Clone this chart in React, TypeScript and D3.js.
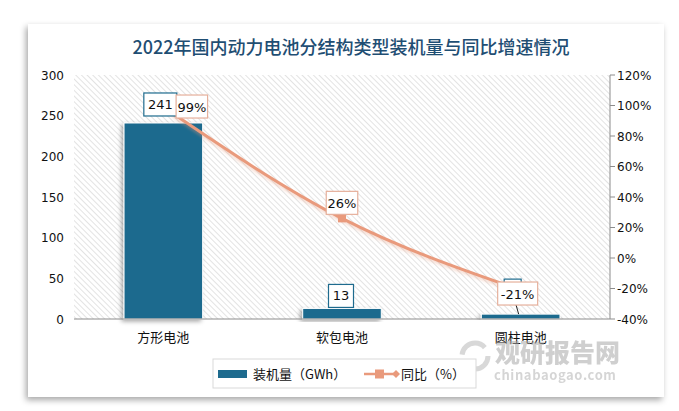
import React from "react";
import * as d3 from "d3";

const categories = ["方形电池", "软包电池", "圆柱电池"];
const installed = [241, 13, 6];
const yoy = [99, 26, -21];
const leftTicks = [0, 50, 100, 150, 200, 250, 300];
const rightTicks = [-40, -20, 0, 20, 40, 60, 80, 100, 120];

const W = 679;
const H = 411;
const plot = { left: 74, right: 610, top: 75, bottom: 319 };
const BAR = "#1e6b8e";
const LINE = "#e99a7c";
const FONT = "'Noto Sans CJK SC', 'Noto Sans', sans-serif";
const NUMFONT = "Verdana, 'DejaVu Sans', sans-serif";

export default function App() {
  const x = d3.scaleBand<string>().domain(categories).range([plot.left, plot.right]).paddingInner(0.56).paddingOuter(0.28);
  const yL = d3.scaleLinear().domain([0, 300]).range([plot.bottom, plot.top]);
  const yR = d3.scaleLinear().domain([-40, 120]).range([plot.bottom, plot.top]);
  const cx = (c: string) => (x(c) as number) + x.bandwidth() / 2;

  const linePath = d3
    .line<number>()
    .x((_, i) => cx(categories[i]))
    .y((d) => yR(d))
    .curve(d3.curveMonotoneX)(yoy) as string;

  const barLabelOffsets = [
    { dx: -3, dy: -29 },
    { dx: -1, dy: -23 },
    { dx: -8, dy: -34 },
  ];
  const lineLabelOffsets = [
    { dx: 28.5, dy: 0 },
    { dx: 0, dy: -15 },
    { dx: -3, dy: 4 },
  ];

  return (
    <svg width={W} height={H} style={{ position: "absolute", left: 0, top: 0 }} xmlns="http://www.w3.org/2000/svg">
      <defs>
        <pattern id="hatch" width="4" height="4" patternUnits="userSpaceOnUse" patternTransform="rotate(-45)">
          <rect width="4" height="4" fill="#ffffff" />
          <line x1="0" y1="0" x2="0" y2="4" stroke="#d4d4d4" strokeWidth="1.3" />
        </pattern>
        <filter id="cardShadow" x="-10%" y="-10%" width="120%" height="125%">
          <feDropShadow dx="-2" dy="3" stdDeviation="3" floodColor="#000" floodOpacity="0.35" />
        </filter>
        <filter id="barShadow" x="-20%" y="-20%" width="140%" height="140%">
          <feDropShadow dx="-2" dy="2" stdDeviation="2" floodColor="#000" floodOpacity="0.35" />
        </filter>
        <filter id="lineShadow" x="-10%" y="-10%" width="120%" height="130%">
          <feDropShadow dx="0" dy="2" stdDeviation="1.5" floodColor="#e99a7c" floodOpacity="0.4" />
        </filter>
      </defs>
      <rect x={0} y={0} width={W} height={H} fill="#fff" />
      <rect x={28} y={24} width={636} height={373} fill="#fff" filter="url(#cardShadow)" />

      <text x={351} y={54} textAnchor="middle" fontFamily={FONT} fontSize={18} fontWeight={500} fill="#1f4e73">
        2022年国内动力电池分结构类型装机量与同比增速情况
      </text>

      <rect x={plot.left} y={plot.top} width={plot.right - plot.left} height={plot.bottom - plot.top} fill="url(#hatch)" />

      {leftTicks.map((t) => (
        <text key={t} x={64} y={yL(t) + 4.5} textAnchor="end" fontFamily={NUMFONT} fontSize={12} fill="#111">
          {t}
        </text>
      ))}
      <line x1={plot.right} x2={plot.right} y1={plot.top} y2={plot.bottom} stroke="#8c8c8c" />
      {rightTicks.map((t) => (
        <g key={t}>
          <line x1={plot.right} x2={plot.right + 5} y1={yR(t)} y2={yR(t)} stroke="#8c8c8c" />
          <text x={plot.right + 7} y={yR(t) + 4.5} fontFamily={NUMFONT} fontSize={12} fill="#111">
            {t}%
          </text>
        </g>
      ))}

      {installed.map((v, i) => (
        <rect
          key={categories[i]}
          x={x(categories[i]) as number}
          y={yL(v)}
          width={x.bandwidth()}
          height={yL(0) - yL(v)}
          fill={BAR}
          stroke="#fff"
          strokeWidth={1}
          filter="url(#barShadow)"
        />
      ))}
      <line x1={plot.left} x2={plot.right} y1={plot.bottom} y2={plot.bottom} stroke="#8c8c8c" />

      {categories.map((c) => (
        <text key={c} x={cx(c)} y={342} textAnchor="middle" fontFamily={FONT} fontSize={13} fill="#111">
          {c}
        </text>
      ))}

      <path d={linePath} fill="none" stroke={LINE} strokeWidth={3} filter="url(#lineShadow)" />
      {yoy.map((v, i) => (
        <rect key={i} x={cx(categories[i]) - 4} y={yR(v) - 4} width={8} height={8} fill={LINE} />
      ))}

      {installed.map((v, i) => {
        const c = cx(categories[i]) + barLabelOffsets[i].dx;
        const yy = yL(v) + barLabelOffsets[i].dy;
        const label = String(v);
        const w = label.length * 8 + 9;
        const hidden = i === 2;
        return (
          <g key={"bl" + i}>
            {hidden && <line x1={c + 2} y1={yy + 20} x2={cx(categories[i]) - 2} y2={yL(v)} stroke="#222" strokeWidth={1} />}
            <rect x={c - w / 2} y={yy - 1} width={w} height={23} fill="#fff" stroke={BAR} strokeWidth={1.2} />
            {!hidden && (
              <text x={c} y={yy + 15} textAnchor="middle" fontFamily={NUMFONT} fontSize={13} fill="#111">
                {label}
              </text>
            )}
          </g>
        );
      })}
      {yoy.map((v, i) => {
        const c = cx(categories[i]) + lineLabelOffsets[i].dx;
        const yy = yR(v) + lineLabelOffsets[i].dy;
        const label = v + "%";
        const w = label.length * 8.5 + 6;
        return (
          <g key={"ll" + i}>
            <rect x={c - w / 2} y={yy - 12} width={w} height={23} fill="#fff" stroke="#e6b09c" strokeWidth={1.2} />
            <text x={c} y={yy + 4.5} textAnchor="middle" fontFamily={NUMFONT} fontSize={13} fill="#111">
              {label}
            </text>
          </g>
        );
      })}

      <g opacity={0.55}>
        <circle cx={475} cy={356} r={13} fill="none" stroke="#b9b9b9" strokeWidth={5} strokeDasharray="30 12" />
        <text x={495} y={362} fontFamily={FONT} fontSize={25} fontWeight={900} fill="#a9a9a9">
          观研报告网
        </text>
        <text x={494} y={380} fontFamily={FONT} fontSize={13} fontWeight={700} fill="#b3b3b3" letterSpacing={0.6}>
          chinabaogao.com
        </text>
      </g>

      <rect x={213} y={359} width={263} height={29} fill="#fff" stroke="#d9d9d9" />
      <rect x={218} y={370} width={29} height={8} fill={BAR} />
      <text x={253} y={379} fontFamily={FONT} fontSize={13} fill="#111">
        装机量（GWh）
      </text>
      <line x1={364} x2={396} y1={374} y2={374} stroke={LINE} strokeWidth={2.5} />
      <rect x={375} y={369.5} width={9} height={9} fill={LINE} />
      <path d="M392,374 L396,370 L400,374 L396,378 Z" fill={LINE} />
      <text x={401} y={379} fontFamily={FONT} fontSize={13} fill="#111">
        同比（%）
      </text>
    </svg>
  );
}
